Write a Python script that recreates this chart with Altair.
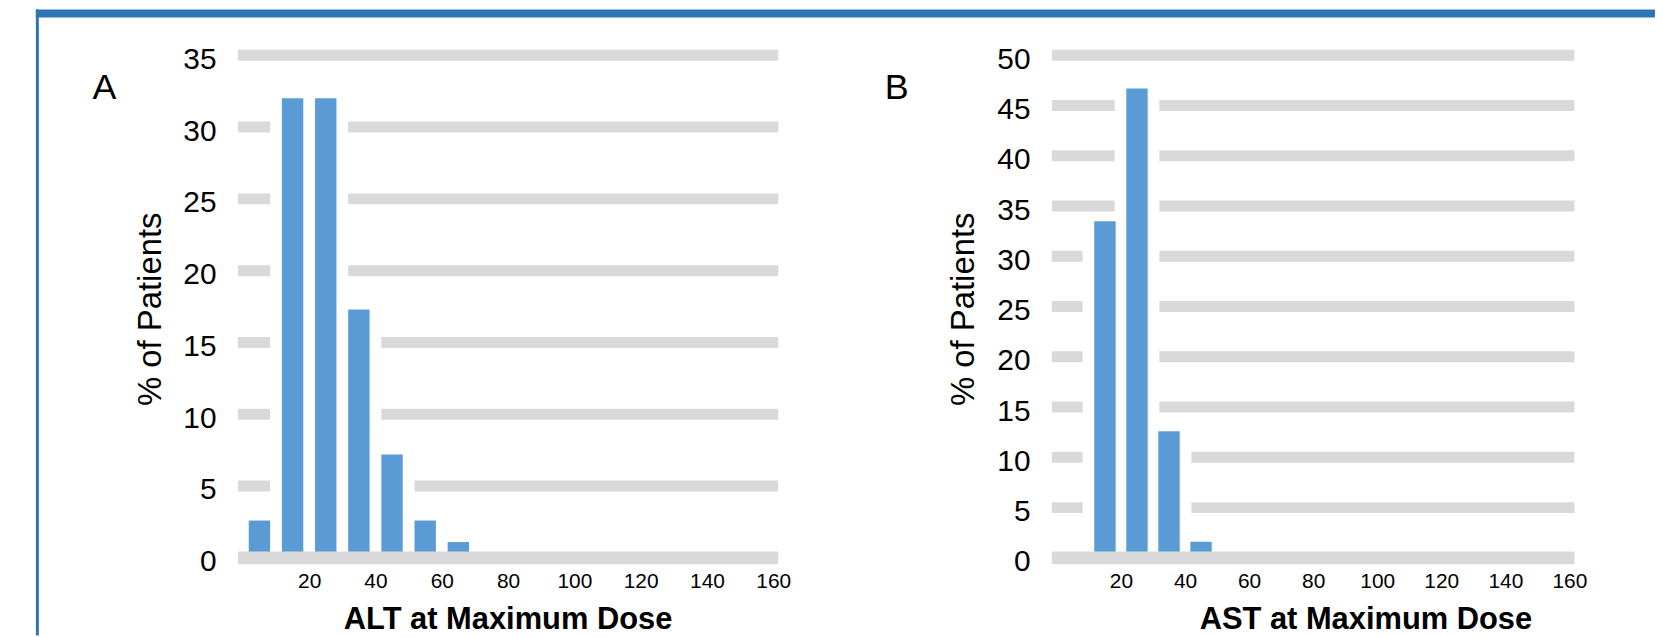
import altair as alt
import pandas as pd

# ---- data ----
bin_starts = [0, 10, 20, 30, 40, 50, 60, 70, 80, 90, 100, 110, 120, 130, 140, 150]
alt_pct = [2.6, 32.0, 32.0, 17.3, 7.2, 2.6, 1.1, 0, 0, 0, 0, 0, 0, 0, 0, 0]
ast_pct = [0, 33.5, 46.7, 12.6, 1.6, 0, 0, 0, 0, 0, 0, 0, 0, 0, 0, 0]
x_ticks = [20, 40, 60, 80, 100, 120, 140, 160]
y_ticks_a = [0, 5, 10, 15, 20, 25, 30, 35]
y_ticks_b = [0, 5, 10, 15, 20, 25, 30, 35, 40, 45, 50]

W, H = 1655, 629
FONT = "Liberation Sans"
BAR = "#5B9BD5"
GRID = "#D9D9D9"
HEAD = "#2E75B6"

df_a = pd.DataFrame({"start": bin_starts, "pct": alt_pct})
df_a["center"] = df_a["start"] + 5
df_b = pd.DataFrame({"start": bin_starts, "pct": ast_pct})
df_b["center"] = df_b["start"] + 5


def panel(df, yticks, xrange_px, yrange_px, xtitle, title_x, ytitle_x):
    xs = alt.Scale(domain=[0, 160], range=xrange_px, nice=False, zero=False)
    ys = alt.Scale(domain=[0, yticks[-1]], range=yrange_px, nice=False)
    grid_df = pd.DataFrame({"g": yticks[1:]})
    zero_df = pd.DataFrame({"g": [0]})

    grid = alt.Chart(grid_df).mark_rule(color=GRID, strokeWidth=11).transform_calculate(
        lo="0", hi="160"
    ).encode(
        x=alt.X("lo:Q", scale=xs, axis=None),
        x2="hi:Q",
        y=alt.Y("g:Q", scale=ys, axis=None),
    )
    mask = alt.Chart(df).mark_bar(color="white", size=45).encode(
        x=alt.X("center:Q", scale=xs, axis=None),
        y=alt.Y("pct:Q", scale=ys, axis=None),
    )
    bars = alt.Chart(df).mark_bar(color=BAR, size=21.5).encode(
        x=alt.X(
            "center:Q",
            scale=xs,
            axis=alt.Axis(
                orient="bottom",
                values=x_ticks, ticks=False, domain=False, grid=False,
                labelFont=FONT, labelFontSize=21, labelColor="black",
                labelPadding=24, labelBaseline="middle",
                offset=-(H - yrange_px[0]),
                title=xtitle, titleFont=FONT, titleFontSize=31, titleFontWeight="bold",
                titleColor="black", titleX=title_x, titleY=H - yrange_px[0],
                titleAlign="center", titleBaseline="bottom",
            ),
        ),
        y=alt.Y(
            "pct:Q",
            scale=ys,
            axis=alt.Axis(
                orient="left",
                values=yticks, ticks=False, domain=False, grid=False,
                labelFont=FONT, labelFontSize=30, labelColor="black",
                labelPadding=22, labelOffset=4,
                offset=-xrange_px[0],
                title="% of Patients", titleFont=FONT, titleFontSize=33,
                titleFontWeight="normal", titleColor="black", titleAngle=270,
                titleX=ytitle_x, titleY=300.7, titleAlign="center", titleBaseline="alphabetic",
            ),
        ),
    )
    zero = alt.Chart(zero_df).mark_rule(color=GRID, strokeWidth=13).transform_calculate(
        lo="0", hi="160"
    ).encode(
        x=alt.X("lo:Q", scale=xs, axis=None),
        x2="hi:Q",
        y=alt.Y("g:Q", scale=ys, axis=None),
    )
    return [grid, mask, bars, zero]


one = pd.DataFrame({"k": [0]})
header = alt.Chart(one).mark_rect(color=HEAD).encode(
    x=alt.value(28), x2=alt.value(W), y=alt.value(0), y2=alt.value(8)
)
left_line = alt.Chart(one).mark_rule(color=HEAD, strokeWidth=3).encode(
    x=alt.value(29.5), y=alt.value(0), y2=alt.value(H)
)
lab_a = alt.Chart(pd.DataFrame({"t": ["A"]})).mark_text(
    font=FONT, fontSize=36, color="black", align="center", baseline="alphabetic"
).encode(text="t:N", x=alt.value(97), y=alt.value(90))
lab_b = alt.Chart(pd.DataFrame({"t": ["B"]})).mark_text(
    font=FONT, fontSize=36, color="black", align="center", baseline="alphabetic"
).encode(text="t:N", x=alt.value(893), y=alt.value(90))

layers = (
    [header, left_line]
    + panel(df_a, y_ticks_a, [231, 774], [551, 46], "ALT at Maximum Dose", 502, -78)
    + panel(df_b, y_ticks_b, [1049, 1574], [551, 46], "AST at Maximum Dose", 1364, -79)
    + [lab_a, lab_b]
)

chart = alt.layer(*layers).resolve_scale(
    x="independent", y="independent"
).resolve_axis(x="independent", y="independent").properties(
    width=W, height=H, autosize=alt.AutoSizeParams(type="none"), padding=0,
    background="white",
).configure_view(stroke=None)

chart.save("out.html", embed_options={"renderer": "svg", "actions": False})
